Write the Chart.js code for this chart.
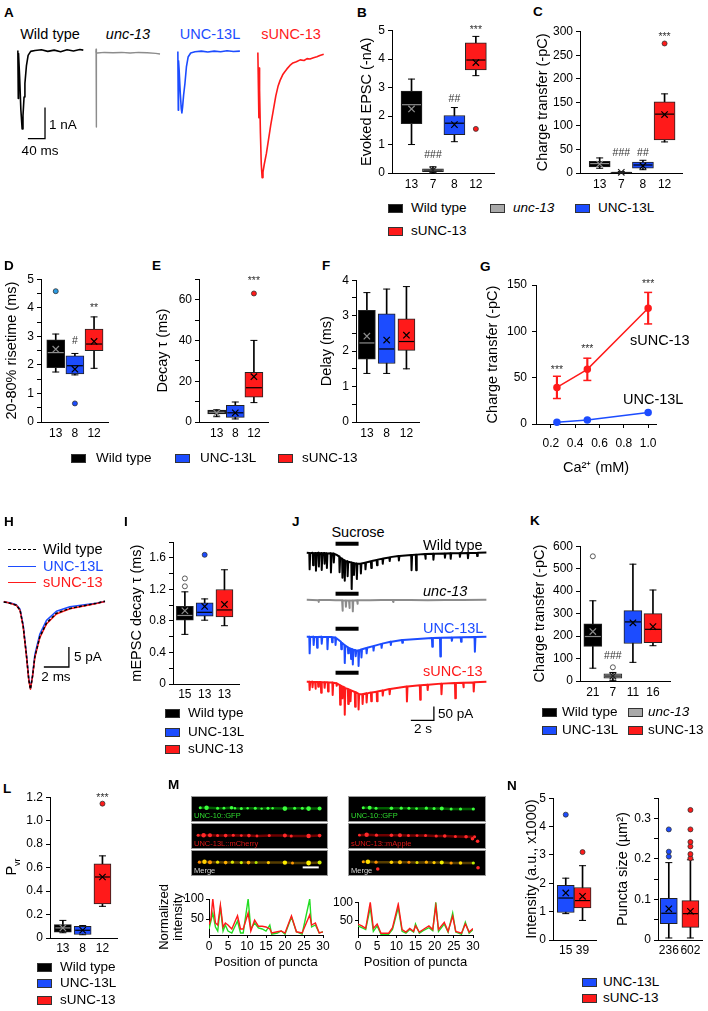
<!DOCTYPE html>
<html>
<head>
<meta charset="utf-8">
<title>UNC-13 isoforms</title>
<script src="https://cdn.jsdelivr.net/npm/chart.js@4.4.1/dist/chart.umd.min.js"></script>
<style>
  body { margin: 0; background: #fff; }
  #page { position: relative; width: 708px; height: 1011px; overflow: hidden; background: #fff;
          font-family: 'Liberation Sans', Arial, Helvetica, sans-serif; color: #000; }
  #page canvas { position: absolute; }
  .t { position: absolute; white-space: nowrap; line-height: 1; font-weight: normal; }
  .sw { position: absolute; width: 13px; height: 7px; border: 1px solid #333; }
  .img { background: #000; outline: 1px solid #9a9a9a; }
  .ln { position: absolute; width: 28px; height: 0; }
</style>
</head>
<body>
<div id="page"></div>
<script>
// ---------- data ----------

// A: evoked EPSC traces (ms, nA)
const aWtT = [0, 1, 1.6, 4, 7, 10, 12, 14.5, 16.5, 20, 24, 30, 40, 55, 70, 85, 100, 115, 130, 145, 153];
const aWtI = [0, -1.55, -0.1, -0.8, -1.9, -2.53, -2.1, -1.5, -1.06, -0.5, -0.16, -0.03, 0, 0.02, -0.03, 0.01, -0.04, 0.02, -0.02, 0.03, 0.01];
const aUncT = [0, 0.5, 1, 1.5, 3, 20, 40, 60, 80, 100, 120, 140, 150];
const aUncI = [0, 0.1, -2.4, 0, -0.02, 0, -0.01, 0, -0.02, 0, -0.01, -0.03, -0.05];
const aLongT = [0, 1, 1.6, 3, 5.5, 8, 9.4, 11, 13.5, 16.5, 20, 24, 30, 40, 55, 70, 85, 100, 115, 130, 145];
const aLongI = [0, -1.89, -0.3, -0.6, -1.3, -1.85, -1.98, -1.8, -1.4, -1.04, -0.5, -0.18, -0.05, -0.01, 0.01, -0.02, 0.01, -0.01, 0.02, 0, 0.01];
const aShortT = [0, 2.4, 3.2, 4, 6, 8, 10, 12, 15, 20, 25, 30, 36, 42, 47, 52, 58, 63, 68, 75, 82, 90, 99, 108, 115, 122, 130, 138, 145, 154];
const aShortI = [0, -2.1, -0.5, -1.2, -2.6, -3.6, -4.03, -3.85, -3.6, -3.25, -2.8, -2.35, -1.87, -1.4, -1.1, -0.9, -0.72, -0.62, -0.53, -0.42, -0.34, -0.3, -0.24, -0.26, -0.2, -0.21, -0.17, -0.14, -0.1, -0.06];
const aBar = { ms: 40, nA: 1 };

// B: evoked EPSC amplitude (-nA)
const bN = ['13', '7', '8', '12'];
const bG = ['wt', 'unc', 'long', 'short'];
const bMin = [1.0, 0.02, 1.1, 3.42];
const bQ1 = [1.73, 0.05, 1.35, 3.62];
const bMed = [2.4, 0.1, 1.75, 3.97];
const bQ3 = [2.88, 0.15, 2.02, 4.57];
const bMax = [3.3, 0.22, 2.3, 4.8];
const bMean = [2.25, 0.1, 1.7, 3.88];
const bOut = [[], [], [], [1.55]];
const bSig = ['', '###', '##', '***'];
const bSigY = [0, 0.62, 2.59, 5.14];

// C: charge transfer (-pC)
const cMin = [10, 0, 7, 66];
const cQ1 = [13, 0.3, 10, 70];
const cMed = [20, 1, 17, 125];
const cQ3 = [25, 2, 23, 151];
const cMax = [32, 3, 27, 168];
const cMean = [19, 1.5, 15, 124];
const cOut = [[], [], [], [275]];
const cSig = ['', '###', '##', '***'];
const cSigY = [0, 42, 42, 294];

// D: 20-80% rise time (ms)
const dN = ['13', '8', '12'];
const dG = ['wt', 'long', 'short'];
const dMin = [1.75, 1.65, 1.88];
const dQ1 = [1.9, 1.68, 2.5];
const dMed = [2.43, 1.97, 2.73];
const dQ3 = [2.88, 2.32, 3.25];
const dMax = [3.08, 2.4, 3.68];
const dMean = [2.55, 1.85, 2.82];
const dOut = [[4.58], [0.65], []];
const dSig = ['', '#', '**'];
const dSigY = [0, 2.83, 4.1];

// E: decay tau (ms)
const eMin = [2.6, 1.5, 9.5];
const eQ1 = [3.9, 2.3, 12.2];
const eMed = [4.8, 4.5, 16.8];
const eQ3 = [5.8, 8.2, 24.3];
const eMax = [6.0, 9.8, 40.0];
const eMean = [4.4, 4.5, 22.2];
const eOut = [[], [], [63]];
const eSig = ['', '', '***'];
const eSigY = [0, 0, 70.5];

// F: delay (ms)
const fMin = [1.37, 1.37, 1.5];
const fQ1 = [1.77, 1.65, 2.02];
const fMed = [2.23, 2.06, 2.27];
const fQ3 = [3.15, 3.05, 2.91];
const fMax = [3.65, 3.75, 3.82];
const fMean = [2.42, 2.31, 2.45];

// G: charge transfer vs calcium
const gCa = [0.25, 0.5, 1.0];
const gShort = [39.5, 59, 125];
const gShortErr = [12, 12, 17];
const gLong = [1.8, 4.2, 12.5];
const gSig = ['***', '***', '***'];
const gSigY = [61, 84, 154];
const gTicks = [0.2, 0.4, 0.6, 0.8, 1.0];

// H: averaged mEPSC (ms, pA)
const hT = [0, 0.5, 1.0, 1.3, 1.55, 1.8, 2.0, 2.13, 2.3, 2.48, 2.88, 3.41, 4.2, 5.28, 6.6, 7.4, 8.08];
const hWt = [0, -0.3, -0.8, -2, -6, -13, -19.5, -21.8, -18.5, -13.7, -8.7, -5.3, -2.8, -1.6, -0.8, -0.3, 0.2];
const hLong = [0, -0.2, -0.7, -1.8, -5.8, -12.8, -19.3, -21.6, -18.3, -13.2, -8.0, -4.6, -2.3, -1.2, -0.6, -0.3, 0.1];
const hShort = [0.1, -0.3, -0.8, -2.1, -6.2, -13.2, -19.6, -21.8, -18.6, -13.9, -8.9, -5.5, -3.0, -1.7, -0.9, -0.4, 0.1];
const hBar = { ms: 2, pA: 5 };

// I: mEPSC decay tau (ms)
const iN = ['15', '13', '13'];
const iMin = [0.63, 0.81, 0.74];
const iQ1 = [0.81, 0.86, 0.85];
const iMed = [0.87, 0.91, 0.94];
const iQ3 = [0.985, 1.03, 1.2];
const iMax = [1.17, 1.08, 1.45];
const iMean = [0.93, 0.985, 1.01];
const iOut = [[1.24, 1.34], [1.64], []];

// J: sucrose responses, [s, pA] samples
const jWt = [[0, 0],
  [0.22, -1], [0.25, -60], [0.3, -2], [0.52, 0], [0.55, -45], [0.6, -2], [0.77, -1], [0.8, -65], [0.86, -2],
  [1.02, 0], [1.05, -50], [1.1, -3], [1.27, -1], [1.3, -62], [1.36, -2], [1.52, -1], [1.55, -40], [1.6, -2],
  [1.72, -2], [1.75, -55], [1.8, -3], [2.07, -2], [2.1, -71], [2.16, -3], [2.32, -3], [2.35, -35], [2.4, -4],
  [2.6, -8], [2.82, -14], [2.85, -70], [2.9, -18], [3.07, -22], [3.1, -90], [3.15, -25], [3.27, -27], [3.3, -101],
  [3.35, -30], [3.52, -31], [3.55, -85], [3.6, -33], [3.87, -35], [3.9, -131], [3.95, -36], [4.07, -37], [4.1, -80],
  [4.15, -38], [4.32, -39], [4.35, -95], [4.4, -40], [4.67, -40], [4.7, -75], [4.75, -39], [5.07, -36], [5.1, -60],
  [5.15, -35], [5.57, -31], [5.6, -55], [5.65, -30], [6.07, -26], [6.1, -45], [6.15, -25], [6.57, -22], [6.6, -40],
  [6.65, -21], [7.17, -17], [7.2, -30], [7.25, -16], [7.97, -12], [8.0, -28], [8.05, -12], [9.07, -8], [9.1, -63],
  [9.15, -8], [9.47, -7], [9.5, -63], [9.55, -7], [10.27, -5], [10.3, -22], [10.35, -5], [10.97, -4], [11.0, -25],
  [11.05, -4], [11.97, -3], [12.0, -18], [12.05, -3], [12.47, -2], [12.5, -22], [12.55, -2], [13.27, -2], [13.3, -15],
  [13.35, -2], [13.97, -1], [14.0, -20], [14.05, -1], [14.77, -1], [14.8, -12], [14.85, 0], [15.6, 1]];
const jUnc = [[0, 0], [1.0, -2], [1.03, -8], [1.06, -1], [2.0, -1], [2.5, -2],
  [3.07, -2], [3.1, -40], [3.14, -3], [3.37, -3], [3.4, -25], [3.44, -3], [3.67, -3], [3.7, -30], [3.74, -3],
  [3.97, -3], [4.0, -42], [4.04, -3], [4.37, -2], [4.4, -15], [4.44, -2], [5.5, -2], [6.5, -1], [7.47, -1],
  [7.5, -8], [7.53, -1], [9, -1], [10.5, -2], [12, -1], [13.5, -1], [15.6, 0]];
const jLong = [[0, 0],
  [0.22, 0], [0.25, -60], [0.3, -1], [0.57, 0], [0.6, -30], [0.65, -1], [0.87, -1], [0.9, -40], [0.95, -1],
  [1.27, 0], [1.3, -25], [1.35, -1], [1.77, -1], [1.8, -45], [1.85, -1], [2.17, -1], [2.2, -20], [2.25, -2],
  [2.47, -3], [2.5, -30], [2.55, -5], [2.97, -18], [3.0, -45], [3.05, -22], [3.27, -30], [3.3, -95], [3.35, -32],
  [3.57, -38], [3.6, -60], [3.65, -40], [3.82, -43], [3.85, -80], [3.9, -44], [3.97, -46], [4.0, -100], [4.05, -47],
  [4.22, -49], [4.25, -70], [4.3, -50], [4.47, -50], [4.5, -105], [4.55, -49], [4.72, -46], [4.75, -75], [4.8, -45],
  [5.17, -41], [5.2, -60], [5.25, -40], [5.77, -34], [5.8, -50], [5.85, -33], [6.47, -26], [6.5, -40], [6.55, -25],
  [7.27, -18], [7.3, -30], [7.35, -18], [8.27, -12], [8.3, -22], [8.35, -12], [10.87, -5], [10.9, -36], [10.95, -5],
  [11.57, -4], [11.6, -71], [11.65, -4], [12.57, -3], [12.6, -15], [12.65, -3], [13.37, -2], [13.4, -18], [13.45, -2],
  [14.57, -1], [14.6, -54], [14.65, -1], [15.6, 0]];
const jShort = [[0, 0],
  [0.22, 0], [0.25, -30], [0.3, -1], [0.47, 0], [0.5, -20], [0.55, -1], [0.72, -1], [0.75, -25], [0.8, -1],
  [0.97, -1], [1.0, -18], [1.05, -1], [1.22, -1], [1.25, -40], [1.3, -2], [1.52, -2], [1.55, -22], [1.6, -2],
  [1.82, -2], [1.85, -35], [1.9, -3], [2.22, -3], [2.25, -48], [2.3, -4], [2.57, -6], [2.6, -15], [2.65, -7],
  [2.87, -12], [2.9, -83], [2.95, -14], [3.07, -17], [3.1, -60], [3.15, -18], [3.27, -21], [3.3, -119], [3.35, -23],
  [3.57, -26], [3.6, -80], [3.65, -28], [3.77, -30], [3.8, -70], [3.85, -31], [4.17, -37], [4.2, -90], [4.25, -38],
  [4.47, -43], [4.5, -100], [4.55, -44], [4.82, -45], [4.85, -80], [4.9, -44], [5.17, -42], [5.2, -75], [5.25, -42],
  [5.57, -39], [5.6, -70], [5.65, -39], [6.07, -36], [6.1, -70], [6.15, -35], [6.57, -32], [6.6, -50], [6.65, -32],
  [7.17, -26], [7.2, -45], [7.25, -26], [8.67, -17], [8.7, -71], [8.75, -17], [9.82, -13], [9.85, -65], [9.9, -13],
  [10.47, -11], [10.5, -30], [10.55, -11], [11.67, -7], [11.7, -45], [11.75, -7], [12.87, -5], [12.9, -60],
  [12.95, -5], [13.57, -4], [13.6, -20], [13.65, -4], [14.47, -3], [14.5, -35], [14.55, -2], [15.6, 0]];
const jSucrose = [2.5, 4.5];
const jBar = { s: 2, pA: 50 };

// K: sucrose charge transfer (-pC)
const kN = ['21', '7', '11', '16'];
const kMin = [57, 3, 83, 157];
const kQ1 = [154, 13, 167, 171];
const kMed = [198, 22, 263, 230];
const kQ3 = [255, 32, 313, 300];
const kMax = [357, 38, 520, 405];
const kMean = [220, 22, 259, 242];
const kOut = [[555], [61], [], []];
const kSig = ['', '###', '', ''];
const kSigY = [0, 112, 0, 0];

// L: vesicular release probability
const lMin = [0.045, 0.028, 0.27];
const lQ1 = [0.05, 0.03, 0.29];
const lMed = [0.086, 0.066, 0.52];
const lQ3 = [0.114, 0.1, 0.633];
const lMax = [0.15, 0.106, 0.7];
const lMean = [0.086, 0.066, 0.52];
const lOut = [[], [], [1.145]];
const lSig = ['', '', '***'];
const lSigY = [0, 0, 1.22];

// M: puncta images (position 0-30 along the cord) and line profiles
const mGfpLX = [1.0, 2.5, 5.1, 6.6, 8.4, 9.2, 10.7, 12.2, 14.0, 15.5, 17.0, 18.1, 21.0, 23.3, 25.1, 26.6, 29.2];
const mGfpLY = [0.15, 0.15, 0.1, 0.1, 0.15, 0.1, 0.05, 0.1, 0.1, 0.05, 0.1, 0.1, 0.05, 0.1, 0.1, 0.05, 0.05];
const mGfpLR = [1.5, 2.2, 1.5, 1.4, 1.8, 1.2, 1.5, 1.2, 1.5, 1.2, 1.5, 1.2, 2.3, 1.5, 1.5, 2.3, 2.0];
const mChLX = [0.5, 1.8, 3.3, 5.1, 7.0, 8.8, 10.7, 12.5, 14.4, 17.3, 21.0, 22.5, 26.6, 29.2];
const mChLY = [0.1, 0.1, 0.1, 0.05, 0.05, 0.1, 0.05, 0.05, 0.0, 0.05, 0.05, 0.0, 0.0, 0.05];
const mChLR = [1.5, 2.2, 2.0, 1.5, 1.8, 1.5, 1.4, 1.8, 1.4, 1.5, 2.0, 1.5, 2.2, 1.8];
const mMgLX = [0.8, 2.0, 3.3, 5.1, 7.0, 8.6, 10.7, 12.4, 14.2, 17.1, 21.0, 22.8, 26.6, 29.2];
const mMgLY = [0.1, 0.15, 0.1, 0.1, 0.05, 0.1, 0.05, 0.05, 0.05, 0.05, 0.05, 0.0, 0.0, 0.05];
const mMgLR = [1.6, 2.2, 2.0, 1.6, 1.8, 1.6, 1.6, 1.8, 1.5, 1.6, 2.2, 1.5, 2.4, 2.0];
const mMgLC = ['#ff8c00', '#ffd000', '#ff9a00', '#e8e000', '#ffb000', '#d8e800', '#c8f000', '#ffaa00', '#b0e800', '#ffc800', '#ffee00', '#ff9900', '#fff200', '#d0f000'];
const mGfpRX = [2.4, 3.9, 5.4, 9.0, 11.3, 13.1, 14.9, 17.2, 19.0, 20.8, 23.0, 25.2, 28.2];
const mGfpRY = [0.15, 0.15, 0.1, 0.1, 0.1, 0.1, 0.05, 0.1, 0.05, 0.05, 0.0, 0.0, 0.0];
const mGfpRR = [1.5, 2.0, 1.5, 1.8, 1.6, 1.5, 1.4, 1.6, 1.5, 2.0, 1.5, 1.6, 1.6];
const mApRX = [1.5, 3.2, 5.5, 9.0, 11.0, 13.0, 15.0, 17.0, 19.5, 21.5, 24.0, 26.5, 28.5];
const mApRY = [0.1, 0.15, 0.1, 0.1, 0.1, 0.05, 0.05, 0.05, 0.0, 0.0, -0.05, -0.1, -0.1];
const mApRR = [1.4, 2.2, 1.6, 1.8, 2.0, 1.5, 1.4, 1.5, 1.6, 1.8, 1.5, 1.8, 1.5];
const mApStrayX = [28.0, 29.2];
const mApStrayY = [-0.35, -0.65];
const mMgRX = [2.4, 3.5, 5.4, 9.0, 11.0, 13.1, 15.0, 17.2, 19.0, 20.8, 23.0, 25.2, 28.2];
const mMgRY = [0.15, 0.15, 0.1, 0.1, 0.1, 0.1, 0.05, 0.1, 0.05, 0.05, 0.0, 0.0, 0.0];
const mMgRR = [1.5, 2.2, 1.6, 1.8, 2.0, 1.5, 1.5, 1.6, 1.6, 2.0, 1.6, 1.8, 1.6];
const mMgRC = ['#ffa000', '#ffe000', '#ff9000', '#ffd000', '#ffc000', '#ff8800', '#e0e000', '#ffb000', '#ffcc00', '#f0f000', '#ff9900', '#ffd800', '#c0f000'];
const mMgStrayX = [5.8, 29.3];
const mMgStrayY = [-0.75, -0.6];

const pLX = [0, 0.5, 1, 1.7, 2.3, 3, 3.7, 4.3, 5, 6, 7.5, 8.3, 9, 10.3, 11, 12, 13, 14, 15, 16, 16.5, 18, 19, 20, 21.7, 23, 24.5, 26.5, 27, 28, 29, 30];
const pLGreen = [25, 45, 65, 30, 20, 80, 20, 35, 20, 15, 45, 15, 15, 100, 25, 40, 28, 25, 20, 35, 12, 15, 20, 12, 55, 18, 12, 100, 30, 35, 15, 18];
const pLRed = [36, 50, 100, 40, 35, 85, 30, 40, 35, 25, 58, 25, 25, 65, 20, 47, 32, 32, 30, 25, 15, 18, 20, 15, 58, 18, 15, 60, 35, 40, 15, 18];
const pRX = [0, 1, 2, 3.2, 4, 5, 6, 8, 9, 10.5, 11.5, 12.5, 13.5, 14.5, 15, 16, 17, 18.5, 19.5, 20.3, 21, 22.5, 23.5, 24.7, 25.5, 27, 28, 29, 30];
const pRGreen = [35, 30, 25, 85, 20, 35, 12, 12, 25, 85, 20, 15, 25, 18, 40, 15, 22, 30, 22, 100, 20, 40, 18, 70, 18, 12, 45, 15, 25];
const pRRed = [40, 35, 28, 100, 28, 40, 15, 15, 30, 95, 25, 18, 28, 20, 35, 18, 25, 35, 25, 90, 25, 45, 20, 62, 20, 15, 40, 18, 28];

// N: puncta intensity and size
const nN = ['15', '39'];
const nG = ['long', 'short'];
const nMin = [0.93, 0.69];
const nQ1 = [0.97, 1.13];
const nMed = [1.48, 1.39];
const nQ3 = [1.93, 1.85];
const nMax = [2.18, 2.62];
const nMean = [1.66, 1.54];
const nOut = [[4.42], [3.1]];
const sN = ['236', '602'];
const sMin = [0.005, 0.005];
const sQ1 = [0.04, 0.031];
const sMed = [0.066, 0.065];
const sQ3 = [0.103, 0.097];
const sMax = [0.191, 0.198];
const sMean = [0.077, 0.071];
const sOut = [[0.206, 0.218, 0.273], [0.202, 0.212, 0.231, 0.242, 0.273, 0.321]];

// ---------- look ----------
const FONT = "'Liberation Sans', Arial, Helvetica, sans-serif";
const BLUE = '#1c4cff', RED = '#ff1a1a', GRAY = '#a9a9a9', BLACK = '#000', GREEN = '#22dd22';
const FILL = { wt: BLACK, unc: GRAY, long: BLUE, short: RED };
const INNER = { wt: '#8c8c8c', unc: '#222', long: '#000', short: '#000' };

Chart.defaults.font.family = FONT;
Chart.defaults.font.size = 12;
Chart.defaults.color = '#000';
Chart.defaults.animation = false;
Chart.defaults.events = [];
Chart.defaults.plugins.legend.display = false;
Chart.defaults.plugins.tooltip.enabled = false;

// significance marks (###, ***) placed with the chart's own scales
Chart.register({
  id: 'sig',
  afterDatasetsDraw(chart, args, opts) {
    if (!opts || !opts.labels) return;
    const { ctx, scales } = chart;
    ctx.save();
    ctx.font = '10.5px ' + FONT;
    ctx.fillStyle = '#333';
    ctx.textAlign = 'center';
    ctx.textBaseline = 'middle';
    opts.labels.forEach((s, i) => {
      if (!s) return;
      const xv = opts.x ? opts.x[i] : i + 1;
      const dy = s[0] === '*' ? 3 : 0;
      ctx.fillText(s, scales.x.getPixelForValue(xv), scales.y.getPixelForValue(opts.y[i]) + dy);
    });
    ctx.restore();
  }
});

const page = document.getElementById('page');

function canvasAt(left, top, w, h, cls) {
  const c = document.createElement('canvas');
  c.width = Math.round(w);
  c.height = Math.round(h);
  c.style.left = left + 'px';
  c.style.top = top + 'px';
  c.style.width = c.width + 'px';
  c.style.height = c.height + 'px';
  if (cls) c.className = cls;
  page.appendChild(c);
  return c;
}

function txt(x, y, s, o = {}) {
  const e = document.createElement('div');
  e.className = 't';
  e.innerHTML = s;
  e.style.left = x + 'px';
  e.style.top = y + 'px';
  e.style.fontSize = (o.size || 13.5) + 'px';
  if (o.color) e.style.color = o.color;
  if (o.bold) e.style.fontWeight = 'bold';
  if (o.italic) e.style.fontStyle = 'italic';
  const ax = o.align === 'center' ? '-50%' : o.align === 'right' ? '-100%' : '0';
  e.style.transform = o.rotate ? 'translate(-50%, -50%) rotate(-90deg)' : `translate(${ax}, -50%)`;
  page.appendChild(e);
}

function key(x, y, color, label, italic, gap) {
  const s = document.createElement('div');
  s.className = 'sw';
  s.style.left = x + 'px';
  s.style.top = (y - 4.5) + 'px';
  s.style.background = color;
  page.appendChild(s);
  txt(x + (gap || 23), y, label, { italic: italic });
}

const pts = (xs, ys) => xs.map((x, i) => ({ x: x, y: ys[i] }));
const pairs = list => list.map(p => ({ x: p[0], y: p[1] }));

// box plot built from floating bars and point markers
function boxPanel(cfg, d) {
  const padTop = cfg.padTop || 8, padRight = 8, xH = cfg.xH || 22;
  const c = canvasAt(cfg.x0 - cfg.yW, cfg.yTop - padTop,
    cfg.yW + (cfg.x1 - cfg.x0) + padRight, padTop + (cfg.yBot - cfg.yTop) + xH);
  const xs = d.labels.map((_, i) => i + 1);
  const inner = d.groups.map(g => INNER[g]);
  const outFill = cfg.outFill || d.groups.map(g => FILL[g]);
  const outPts = [], outCol = [];
  d.out.forEach((vals, i) => vals.forEach(v => { outPts.push({ x: i + 1, y: v }); outCol.push(outFill[i]); }));
  const dot = { type: 'line', showLine: false, clip: false };
  new Chart(c, {
    type: 'bar',
    data: {
      datasets: [
        { type: 'bar', order: 6, data: xs.map((x, i) => ({ x: x, y: [d.min[i], d.max[i]] })),
          backgroundColor: '#000', barThickness: 1, grouped: false },
        { ...dot, order: 5, data: xs.flatMap((x, i) => [{ x: x, y: d.min[i] }, { x: x, y: d.max[i] }]),
          pointStyle: 'line', pointRadius: cfg.capR || 3.5, pointBorderWidth: 1, pointBorderColor: '#000' },
        { type: 'bar', order: 4, data: xs.map((x, i) => ({ x: x, y: [d.q1[i], d.q3[i]] })),
          backgroundColor: d.groups.map(g => FILL[g]), borderColor: '#222', borderWidth: 1,
          borderSkipped: false, barThickness: cfg.boxW, grouped: false },
        { ...dot, order: 3, data: pts(xs, d.med), pointStyle: 'line', pointRadius: cfg.boxW / 2 - 1,
          pointBorderWidth: 1.2, pointBorderColor: inner },
        { ...dot, order: 2, data: pts(xs, d.mean), pointStyle: 'crossRot', pointRadius: 4.5,
          pointBorderWidth: 1.2, pointBorderColor: inner },
        { ...dot, order: 1, data: outPts, pointStyle: 'circle', pointRadius: 2.5,
          pointBackgroundColor: outCol, pointBorderColor: '#333', pointBorderWidth: 0.8 }
      ]
    },
    options: {
      responsive: false,
      layout: { padding: { top: padTop, right: padRight, left: 0, bottom: 0 } },
      plugins: { sig: { labels: d.sig, y: d.sigY } },
      scales: {
        x: {
          type: 'linear', min: cfg.xMin, max: cfg.xMax, offset: false,
          grid: { display: false, drawTicks: false, offset: false },
          border: { display: true, color: '#000' },
          afterBuildTicks: s => { s.ticks = xs.map(v => ({ value: v })); },
          ticks: { autoSkip: false, maxRotation: 0, padding: cfg.xPad || 4, callback: v => d.labels[v - 1] },
          afterFit: s => { s.height = xH; }
        },
        y: {
          type: 'linear', min: cfg.yMin, max: cfg.yMax,
          grid: { display: true, drawOnChartArea: false, drawTicks: true, tickLength: 4, color: '#000' },
          border: { display: true, color: '#000' },
          ticks: { stepSize: cfg.yStep, padding: 3, autoSkip: false, callback: cfg.yFmt || (v => v) },
          title: { display: !!cfg.title, text: cfg.title, padding: 0, font: { size: 14.5 } },
          afterFit: s => { s.width = cfg.yW; }
        }
      }
    }
  });
}

// bare trace on hidden axes; (ox, oy) is the pixel of t = 0, I = 0
function traceChart(o) {
  const c = canvasAt(o.ox + o.xr[0] * o.kx, o.oy - o.yr[1] * o.ky,
    (o.xr[1] - o.xr[0]) * o.kx, (o.yr[1] - o.yr[0]) * o.ky);
  new Chart(c, {
    type: 'line',
    data: { datasets: o.datasets },
    options: {
      responsive: false,
      layout: { padding: 0 },
      elements: { point: { radius: 0 }, line: { tension: 0, borderJoinStyle: 'round' } },
      scales: {
        x: { type: 'linear', display: false, min: o.xr[0], max: o.xr[1] },
        y: { type: 'linear', display: false, min: o.yr[0], max: o.yr[1] }
      }
    }
  });
}

const lineSet = (data, color, width, dash) => ({ data: data, borderColor: color, borderWidth: width || 1.5, borderDash: dash || [] });
const traceSet = (t, v, color, width, dash) => lineSet(pts(t, v), color, width, dash);
const scaleBarSet = (cx, cy, dx, dy) => ({ data: [{ x: cx, y: cy + dy }, { x: cx, y: cy }, { x: cx - dx, y: cy }],
  borderColor: '#000', borderWidth: 1.3, borderJoinStyle: 'miter' });

// ---------- A ----------
txt(4, 13, 'A', { bold: true });
txt(50, 34, 'Wild type', { align: 'center', size: 14.5 });
txt(128, 34, 'unc-13', { align: 'center', size: 14.5, italic: true });
txt(210, 34, 'UNC-13L', { align: 'center', size: 14.5, color: BLUE });
txt(291, 34, 'sUNC-13', { align: 'center', size: 14.5, color: RED });
const aK = { kx: 0.425, ky: 31, xr: [-2, 157], yr: [-4.3, 0.4] };
traceChart({ ...aK, ox: 18, oy: 50, datasets: [traceSet(aWtT, aWtI, BLACK, 1.6), scaleBarSet(63.5, -2.84, aBar.ms, aBar.nA)] });
traceChart({ ...aK, ox: 96, oy: 52, datasets: [traceSet(aUncT, aUncI, '#8c8c8c', 1.4)] });
traceChart({ ...aK, ox: 178, oy: 51, datasets: [traceSet(aLongT, aLongI, BLUE, 1.6)] });
traceChart({ ...aK, ox: 258, oy: 52, datasets: [traceSet(aShortT, aShortI, RED, 1.6)] });
txt(49, 125, '1 nA');
txt(40, 151, '40 ms', { align: 'center' });

// ---------- B, C ----------
txt(357, 13, 'B', { bold: true });
boxPanel({ x0: 392, x1: 497, yTop: 28, yBot: 173, yMin: 0, yMax: 5, xMin: 0.09, xMax: 4.86, yW: 34,
  yStep: 1, title: 'Evoked EPSC (-nA)', boxW: 21 },
  { labels: bN, groups: bG, min: bMin, q1: bQ1, med: bMed, q3: bQ3, max: bMax, mean: bMean, out: bOut, sig: bSig, sigY: bSigY });
txt(533, 12, 'C', { bold: true });
boxPanel({ x0: 580, x1: 685, yTop: 29, yBot: 173, yMin: 0, yMax: 300, xMin: 0.09, xMax: 4.82, yW: 46,
  yStep: 50, title: 'Charge transfer (-pC)', boxW: 21 },
  { labels: bN, groups: bG, min: cMin, q1: cQ1, med: cMed, q3: cQ3, max: cMax, mean: cMean, out: cOut, sig: cSig, sigY: cSigY });
key(388, 208, BLACK, 'Wild type');
key(490, 208, GRAY, 'unc-13', true);
key(575, 208, BLUE, 'UNC-13L');
key(388, 231, RED, 'sUNC-13');

// ---------- D, E, F ----------
const intOnly = v => (Number.isInteger(v) ? v : '');
txt(4, 266, 'D', { bold: true });
boxPanel({ x0: 41, x1: 110, yTop: 277, yBot: 422, yMin: 0, yMax: 5, xMin: 0.23, xMax: 3.77, yW: 38,
  yStep: 0.5, yFmt: intOnly, title: '20-80% risetime (ms)', boxW: 18, outFill: ['#2b9be3', BLUE, RED] },
  { labels: dN, groups: dG, min: dMin, q1: dQ1, med: dMed, q3: dQ3, max: dMax, mean: dMean, out: dOut, sig: dSig, sigY: dSigY });
txt(152, 266, 'E', { bold: true });
boxPanel({ x0: 199, x1: 270, yTop: 277, yBot: 422, yMin: 0, yMax: 70, xMin: 0.05, xMax: 3.8, yW: 45,
  yStep: 10, yFmt: v => (v % 20 === 0 ? v : ''), title: 'Decay τ (ms)', boxW: 18 },
  { labels: dN, groups: dG, min: eMin, q1: eQ1, med: eMed, q3: eQ3, max: eMax, mean: eMean, out: eOut, sig: eSig, sigY: eSigY });
txt(322, 266, 'F', { bold: true });
boxPanel({ x0: 356, x1: 420, yTop: 278, yBot: 422, yMin: 0, yMax: 4, xMin: 0.45, xMax: 3.65, yW: 38,
  yStep: 0.5, yFmt: intOnly, title: 'Delay (ms)', boxW: 17 },
  { labels: dN, groups: dG, min: fMin, q1: fQ1, med: fMed, q3: fQ3, max: fMax, mean: fMean, out: [[], [], []] });
key(71, 458, BLACK, 'Wild type', false, 25);
key(175, 458, BLUE, 'UNC-13L', false, 25);
key(278, 458, RED, 'sUNC-13', false, 24);

// ---------- G ----------
txt(480, 267, 'G', { bold: true });
(function () {
  const x0 = 536, x1 = 657, yTop = 285, yBot = 424, yW = 52, xH = 53, padTop = 14, padRight = 8;
  const c = canvasAt(x0 - yW, yTop - padTop, yW + x1 - x0 + padRight, padTop + yBot - yTop + xH);
  const lo = gShort.map((m, i) => m - gShortErr[i]), hi = gShort.map((m, i) => m + gShortErr[i]);
  const meanLine = (m, col) => ({ type: 'line', order: 1, data: pts(gCa, m), borderColor: col, backgroundColor: col,
    borderWidth: 1.5, pointRadius: 3, pointBackgroundColor: col, pointBorderColor: col, clip: false });
  new Chart(c, {
    type: 'bar',
    data: {
      datasets: [
        { type: 'bar', order: 5, data: gCa.map((x, i) => ({ x: x, y: [lo[i], hi[i]] })), backgroundColor: RED, barThickness: 1.5, grouped: false },
        { type: 'line', order: 4, showLine: false, data: pts(gCa, lo).concat(pts(gCa, hi)), pointStyle: 'line', pointRadius: 4,
          pointBorderWidth: 1.5, pointBorderColor: RED, clip: false },
        meanLine(gShort, RED),
        meanLine(gLong, BLUE)
      ]
    },
    options: {
      responsive: false,
      layout: { padding: { top: padTop, right: padRight, left: 0, bottom: 0 } },
      plugins: { sig: { labels: gSig, x: gCa, y: gSigY } },
      scales: {
        x: {
          type: 'linear', min: 0.078, max: 1.065, offset: false,
          grid: { display: true, drawOnChartArea: false, tickLength: 4, color: '#000', offset: false },
          border: { display: true, color: '#000' },
          afterBuildTicks: s => { s.ticks = gTicks.map(v => ({ value: v })); },
          ticks: { autoSkip: false, maxRotation: 0, padding: 8, callback: v => v.toFixed(1) },
          title: { display: true, text: 'Ca²⁺ (mM)', padding: 0, font: { size: 14.5 } },
          afterFit: s => { s.height = xH; }
        },
        y: {
          type: 'linear', min: 0, max: 150,
          grid: { display: true, drawOnChartArea: false, tickLength: 4, color: '#000' },
          border: { display: true, color: '#000' },
          ticks: { stepSize: 50, padding: 5 },
          title: { display: true, text: 'Charge transfer (-pC)', padding: 0, font: { size: 14.5 } },
          afterFit: s => { s.width = yW; }
        }
      }
    }
  });
})();
txt(630, 340, 'sUNC-13', { size: 14.5 });
txt(623, 399, 'UNC-13L', { size: 14.5 });

// ---------- H ----------
txt(4, 522, 'H', { bold: true });
[[549, '#000', 'dashed', 'Wild type'], [566, BLUE, 'solid', 'UNC-13L'], [582, RED, 'solid', 'sUNC-13']].forEach(r => {
  const l = document.createElement('div');
  l.className = 'ln';
  l.style.left = '8px';
  l.style.top = r[0] + 'px';
  l.style.borderTop = `1.5px ${r[2]} ${r[1]}`;
  page.appendChild(l);
  txt(43, r[0], r[3], { size: 14.5, color: r[1] });
});
traceChart({ kx: 12.5, ky: 4, xr: [-0.3, 8.4], yr: [-23, 1.5], ox: 4, oy: 602, datasets: [
  traceSet(hT, hWt, BLACK, 1.5, [3, 2]),
  traceSet(hT, hShort, RED, 1.5),
  traceSet(hT, hLong, BLUE, 1.5),
  scaleBarSet(5.2, -16.25, hBar.ms, hBar.pA)
] });
txt(74, 657, '5 pA');
txt(56, 677, '2 ms', { align: 'center' });

// ---------- I ----------
txt(124, 522, 'I', { bold: true });
boxPanel({ x0: 173, x1: 240, yTop: 540, yBot: 684, yMin: 0, yMax: 1.8, xMin: 0.4, xMax: 3.75, yW: 45,
  yStep: 0.2, yFmt: v => { const k = Math.round(v * 10); return k === 0 ? '0' : (k % 4 === 0 ? v.toFixed(1) : ''); },
  title: 'mEPSC decay τ (ms)', boxW: 17, xPad: 3, outFill: ['#fff', BLUE, RED] },
  { labels: iN, groups: dG, min: iMin, q1: iQ1, med: iMed, q3: iQ3, max: iMax, mean: iMean, out: iOut });
key(165, 713, BLACK, 'Wild type');
key(165, 732, BLUE, 'UNC-13L');
key(165, 749, RED, 'sUNC-13');

// ---------- J ----------
txt(292, 522, 'J', { bold: true });
txt(358, 532, 'Sucrose', { align: 'center', size: 14.5 });
const jK = { kx: 11.5, ky: 0.28, xr: [-0.5, 16], yr: [-145, 42], ox: 307 };
const sucroseSet = lift => ({ data: jSucrose.map(x => ({ x: x, y: lift / jK.ky })), borderColor: '#000', borderWidth: 4, borderCapStyle: 'butt' });
traceChart({ ...jK, oy: 553, datasets: [lineSet(pairs(jWt), BLACK, 2), sucroseSet(9)] });
traceChart({ ...jK, oy: 600, datasets: [lineSet(pairs(jUnc), '#8c8c8c', 2), sucroseSet(6)] });
traceChart({ ...jK, oy: 637, datasets: [lineSet(pairs(jLong), BLUE, 2), sucroseSet(8)] });
traceChart({ ...jK, oy: 682, datasets: [lineSet(pairs(jShort), RED, 2), sucroseSet(9), scaleBarSet(11.04, -139, jBar.s, jBar.pA)] });
txt(423, 545, 'Wild type', { size: 14.5 });
txt(423, 591, 'unc-13', { size: 14.5, italic: true });
txt(423, 628, 'UNC-13L', { size: 14.5, color: BLUE });
txt(423, 671, 'sUNC-13', { size: 14.5, color: RED });
txt(438, 714, '50 pA');
txt(423, 729, '2 s', { align: 'center' });

// ---------- K ----------
txt(530, 521, 'K', { bold: true });
boxPanel({ x0: 580, x1: 672, yTop: 544, yBot: 681, yMin: 0, yMax: 600, xMin: 0.36, xMax: 4.89, yW: 49,
  yStep: 100, title: 'Charge transfer (-pC)', boxW: 18, outFill: ['#fff', '#fff', BLUE, RED] },
  { labels: kN, groups: bG, min: kMin, q1: kQ1, med: kMed, q3: kQ3, max: kMax, mean: kMean, out: kOut, sig: kSig, sigY: kSigY });
key(542, 712, BLACK, 'Wild type', false, 20);
key(628, 712, GRAY, 'unc-13', true, 20);
key(542, 730, BLUE, 'UNC-13L', false, 20);
key(628, 730, RED, 'sUNC-13', false, 20);

// ---------- L ----------
txt(3, 789, 'L', { bold: true });
boxPanel({ x0: 50, x1: 118, yTop: 795, yBot: 938, yMin: 0, yMax: 1.2, xMin: 0.35, xMax: 3.75, yW: 40,
  yStep: 0.2, yFmt: v => (Math.round(v * 10) === 0 ? '0' : v.toFixed(1)), title: '', boxW: 17, xPad: 3 },
  { labels: dN, groups: dG, min: lMin, q1: lQ1, med: lMed, q3: lQ3, max: lMax, mean: lMean, out: lOut, sig: lSig, sigY: lSigY });
txt(13, 867, 'P<sub style="font-size:9px">vr</sub>', { rotate: true, size: 14.5 });
key(37, 967, BLACK, 'Wild type');
key(37, 983, BLUE, 'UNC-13L');
key(37, 1000, RED, 'sUNC-13');

// ---------- M ----------
txt(168, 785, 'M', { bold: true });
function imagePanel(left, top, w, h, sets) {
  const c = canvasAt(left, top, w, h, 'img');
  new Chart(c, {
    type: 'scatter',
    data: { datasets: sets },
    options: { responsive: false, layout: { padding: 0 },
      scales: { x: { display: false, min: 0, max: 30 }, y: { display: false, min: -1, max: 1 } } }
  });
}
function spots(xs, ys, rs, color, glow) {
  const p = pts(xs, ys);
  return [
    { type: 'scatter', order: 0, data: p, pointRadius: rs, pointBackgroundColor: color, pointBorderWidth: 0 },
    { type: 'line', order: 1, data: p, showLine: true, borderColor: glow, borderWidth: 2.5, pointRadius: 0 }
  ];
}
const strays = (xs, ys, color) => ({ type: 'scatter', data: pts(xs, ys), pointRadius: 1.8, pointBackgroundColor: color, pointBorderWidth: 0 });
imagePanel(192, 797, 135, 24, spots(mGfpLX, mGfpLY, mGfpLR, '#3cff3c', 'rgba(0,170,0,0.55)'));
imagePanel(192, 824, 135, 24, spots(mChLX, mChLY, mChLR, '#ff2a2a', 'rgba(200,0,0,0.55)'));
imagePanel(192, 851, 135, 24, spots(mMgLX, mMgLY, mMgLR, mMgLC, 'rgba(170,120,0,0.5)').concat([
  { type: 'line', data: [{ x: 25.2, y: -0.55 }, { x: 29, y: -0.55 }], borderColor: '#fff', borderWidth: 2, pointRadius: 0 }]));
imagePanel(349, 797, 136, 24, spots(mGfpRX, mGfpRY, mGfpRR, '#3cff3c', 'rgba(0,170,0,0.55)'));
imagePanel(349, 824, 136, 24, spots(mApRX, mApRY, mApRR, '#ff2a2a', 'rgba(200,0,0,0.55)').concat([strays(mApStrayX, mApStrayY, '#ff2a2a')]));
imagePanel(349, 851, 136, 24, spots(mMgRX, mMgRY, mMgRR, mMgRC, 'rgba(170,120,0,0.5)').concat([strays(mMgStrayX, mMgStrayY, '#ff2a2a')]));
[[194, 'UNC-10::GFP', 'UNC-13L::mCherry'], [351, 'UNC-10::GFP', 'sUNC-13::mApple']].forEach(g => {
  txt(g[0], 816, g[1], { size: 7.5, color: '#2fdc2f' });
  txt(g[0], 844, g[2], { size: 7.5, color: '#e01818' });
  txt(g[0], 871, 'Merge', { size: 7.5, color: '#d8d8d8' });
});

function profilePanel(cfg, xs, g, r) {
  const padTop = cfg.padTop || 6, padRight = 8;
  const c = canvasAt(cfg.x0 - cfg.yW, cfg.yTop - padTop, cfg.yW + cfg.x1 - cfg.x0 + padRight,
    padTop + cfg.yBot - cfg.yTop + cfg.xH);
  new Chart(c, {
    type: 'line',
    data: { datasets: [
      { data: pts(xs, r), borderColor: RED, borderWidth: 1.4, pointRadius: 0 },
      { data: pts(xs, g), borderColor: GREEN, borderWidth: 1.4, pointRadius: 0 }
    ] },
    options: {
      responsive: false,
      layout: { padding: { top: padTop, right: padRight, left: 0, bottom: 0 } },
      scales: {
        x: {
          type: 'linear', min: 0, max: 30,
          grid: { display: true, drawOnChartArea: false, tickLength: 3, color: '#000' },
          border: { display: true, color: '#000' },
          ticks: { stepSize: 5, padding: 1, maxRotation: 0, autoSkip: false },
          title: { display: true, text: 'Position of puncta', padding: 0, font: { size: 13 } },
          afterFit: s => { s.height = cfg.xH; }
        },
        y: {
          type: 'linear', min: 10, max: 100,
          afterBuildTicks: s => { s.ticks = [{ value: 50 }, { value: 100 }]; },
          grid: { display: true, drawOnChartArea: false, tickLength: 3, color: '#000' },
          border: { display: true, color: '#000' },
          ticks: { padding: 2 },
          title: { display: !!cfg.title, text: cfg.title, padding: 0, font: { size: 13, lineHeight: 1.1 } },
          afterFit: s => { s.width = cfg.yW; }
        }
      }
    }
  });
}
profilePanel({ x0: 209, x1: 323, yTop: 899, yBot: 935, yW: 52, xH: 35, padTop: 24, title: ['Normalized', 'intensity'] }, pLX, pLGreen, pLRed);
profilePanel({ x0: 358, x1: 473, yTop: 899, yBot: 935, yW: 25, xH: 35 }, pRX, pRGreen, pRRed);

// ---------- N ----------
txt(507, 786, 'N', { bold: true });
boxPanel({ x0: 553, x1: 597, yTop: 796, yBot: 940, yMin: 0, yMax: 5, xMin: 0.24, xMax: 2.82, yW: 30,
  yStep: 1, title: 'Intensity (a.u., x1000)', boxW: 17, xPad: 3.5 },
  { labels: nN, groups: nG, min: nMin, q1: nQ1, med: nMed, q3: nQ3, max: nMax, mean: nMean, out: nOut });
boxPanel({ x0: 658, x1: 703, yTop: 796, yBot: 940, yMin: 0, yMax: 0.35, xMin: 0.5, xMax: 2.55, yW: 44,
  yStep: 0.05, yFmt: v => { const k = Math.round(v * 100); return k === 0 ? '0' : (k % 10 === 0 ? v.toFixed(1) : ''); },
  title: 'Puncta size (µm²)', boxW: 17, xPad: 3.5 },
  { labels: sN, groups: nG, min: sMin, q1: sQ1, med: sMed, q3: sQ3, max: sMax, mean: sMean, out: sOut });
key(582, 982, BLUE, 'UNC-13L', false, 21);
key(582, 998, RED, 'sUNC-13', false, 21);
</script>
</body>
</html>
